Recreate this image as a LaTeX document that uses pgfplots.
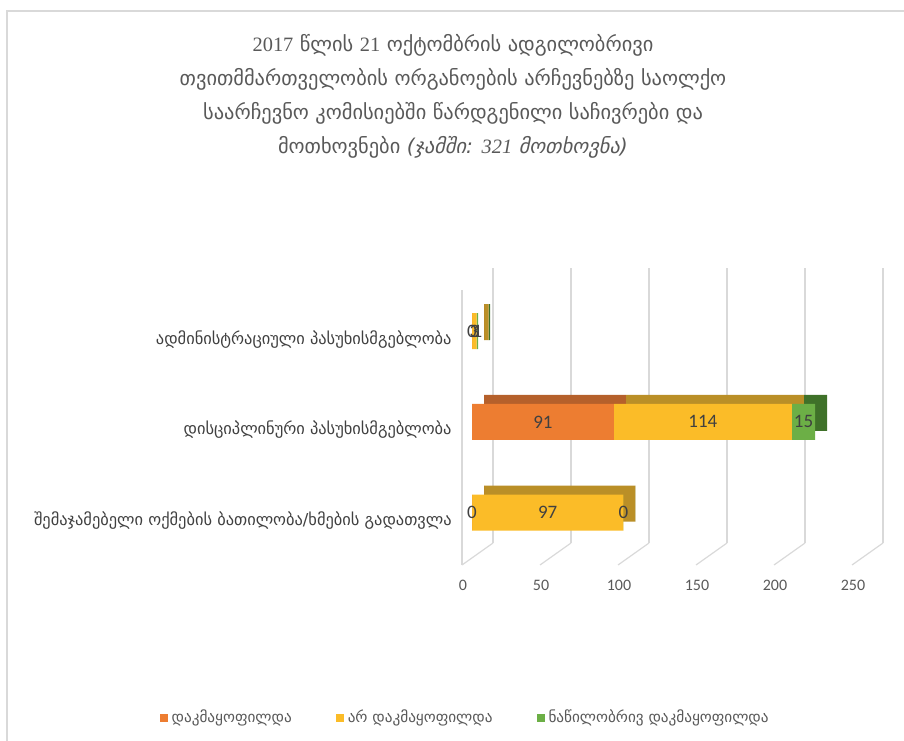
\documentclass[border=0pt]{standalone}
\usepackage{fontspec}
\setmainfont{Carlito}
\newfontfamily\geo{DejaVu Sans}
\newfontfamily\tdig{Liberation Serif}
\usepackage{pgfplots}
\usepackage{pgfplotstable}
\pgfplotsset{compat=1.18}

\definecolor{cOr}{HTML}{ED7D31}
\definecolor{cYe}{HTML}{FBBC28}
\definecolor{cGr}{HTML}{6CAF46}
\definecolor{dOr}{HTML}{B5602B}
\definecolor{dYe}{HTML}{BA8F27}
\definecolor{dGr}{HTML}{3F7129}
\definecolor{gridc}{HTML}{D9D9D9}
\definecolor{txt}{HTML}{595959}
\definecolor{lab}{HTML}{404040}

% y: 0 = recount, 1 = disciplinary, 2 = administrative
\pgfplotstableread{
y a b c
0 0 97 0
1 91 114 15
2 0 3 1
}\data

\pgfplotsset{
  base/.style={
    xbar stacked, stacked ignores zero=false, scale only axis, anchor=south west,
    width=195pt, height=137.5pt,
    xmin=0, xmax=250, ymin=-0.5, ymax=2.53,
    bar width=18pt,
    axis line style={draw=none}, tick style={draw=none},
    ytick={0,1,2}, xtick={0,50,...,250},
    /pgf/number format/assume math mode=true,
  },
  sqleg/.style={legend image code/.code={\fill[##1] (0pt,-2pt) rectangle (4pt,2pt);}},
}

\begin{document}
\begin{tikzpicture}
\useasboundingbox (0,0) rectangle (452pt,370pt);
\draw[gridc, line width=0.8pt] (3.5pt,-5pt) rectangle (460pt,364.5pt);

\node[align=center, text=txt, font=\geo\fontsize{10.2}{17}\selectfont] at (226.5pt,321.75pt)
  {{\tdig 2017} წლის {\tdig 21} ოქტომბრის ადგილობრივი\\
   თვითმმართველობის ორგანოების არჩევნებზე საოლქო\\
   საარჩევნო კომისიებში წარდგენილი საჩივრები და\\
   მოთხოვნები {\itshape (ჯამში: {\tdig\itshape 321} მოთხოვნა)}};

% back wall grid and floor
\begin{axis}[base, at={(246.5pt,98.5pt)}, clip=false,
  xmajorgrids, major grid style={gridc, line width=0.6pt},
  xticklabels={}, yticklabels={}]
  \pgfplotsinvokeforeach{0,50,...,250}{
    \draw[gridc, line width=0.6pt] (axis cs:#1,-0.5) -- ++(-15.5pt,-11pt);
  }
  \draw[gridc, line width=0.6pt] ([xshift=-15.5pt,yshift=-11pt]axis cs:0,-0.5)
    -- ([xshift=-15.5pt,yshift=-11pt]axis cs:0,2.53);
\end{axis}

% depth of the bars
\begin{axis}[base, at={(242pt,95.5pt)}, hide axis]
  \addplot[fill=dOr, draw=none] table[x=a, y=y] {\data};
  \addplot[fill=dYe, draw=none] table[x=b, y=y] {\data};
  \addplot[fill=dGr, draw=none] table[x=c, y=y] {\data};
\end{axis}

% front faces
\begin{axis}[base, at={(236pt,91pt)}, clip=false,
  yticklabels={შემაჯამებელი ოქმების ბათილობა/ხმების გადათვლა,
               დისციპლინური პასუხისმგებლობა,
               ადმინისტრაციული პასუხისმგებლობა},
  yticklabel style={font=\geo\fontsize{8.2}{9}\selectfont, text=lab,
    anchor=east, inner sep=0pt, xshift=-10pt, yshift=-4pt},
  xticklabel style={font=\fontsize{8}{9}\selectfont, text=txt,
    anchor=center, xshift=-4.5pt, yshift=-13.5pt},
  nodes near coords,
  every node near coord/.append style={font=\fontsize{9.5}{10}\selectfont,
    text=lab, anchor=center},
  legend style={at={(-0.015,-0.582)}, anchor=center, draw=none,
    legend columns=-1, font=\geo\fontsize{7.6}{8}\selectfont, text=txt,
    /tikz/every even column/.append style={column sep=20pt}},
]
  \addplot[fill=cOr, draw=none, sqleg] table[x=a, y=y] {\data};
  \addplot[fill=cYe, draw=none, sqleg] table[x=b, y=y] {\data};
  \addplot[fill=cGr, draw=none, sqleg] table[x=c, y=y] {\data};
  \legend{დაკმაყოფილდა, არ დაკმაყოფილდა, ნაწილობრივ დაკმაყოფილდა}
\end{axis}
\end{tikzpicture}
\end{document}
